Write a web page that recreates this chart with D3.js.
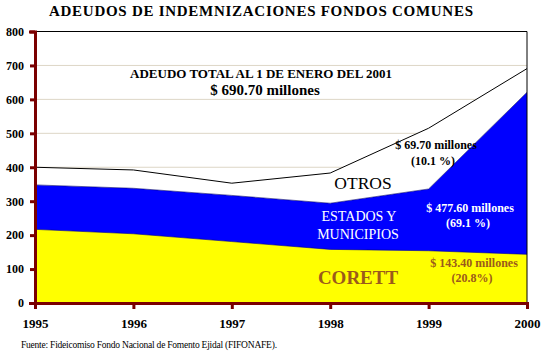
<!DOCTYPE html>
<html>
<head>
<meta charset="utf-8">
<script src="https://cdn.jsdelivr.net/npm/d3@7"></script>
<style>
  body { margin: 0; background: #fff; }
</style>
</head>
<body>
<div id="chart"></div>
<script>
// values (millones de pesos)
const years = [1995, 1996, 1997, 1998, 1999, 2000];
const corett = [217, 204, 181, 158, 154, 143.4];
const estados = [131, 134, 136, 136, 182, 477.6];
const otros = [52, 54, 36, 89, 179, 69.7];
const yTicks = [0, 100, 200, 300, 400, 500, 600, 700, 800];

const serif = "'Liberation Serif'";
const width = 544, height = 354;
const margin = { top: 31.5, right: 17, bottom: 51, left: 35 };

const svg = d3.select('#chart').append('svg')
    .attr('width', width)
    .attr('height', height)
    .style('font-family', serif);

const x = d3.scaleLinear().domain([1995, 2000]).range([margin.left, width - margin.right]);
const y = d3.scaleLinear().domain([0, 800]).range([height - margin.bottom, margin.top]);

const rows = years.map((yr, i) => ({ year: yr, corett: corett[i], estados: estados[i], otros: otros[i] }));
const stacked = d3.stack().keys(['corett', 'estados', 'otros'])(rows);
const fills = { corett: '#ffff00', estados: '#0000ff', otros: '#ffffff' };

// gridlines
svg.append('g')
    .selectAll('line')
    .data(yTicks.filter(d => d > 0 && d < 800))
    .enter().append('line')
    .attr('x1', margin.left).attr('x2', width - margin.right)
    .attr('y1', d => y(d)).attr('y2', d => y(d))
    .attr('stroke', '#ddd6c6')
    .attr('stroke-width', 1);

const area = d3.area()
    .x(d => x(d.data.year))
    .y0(d => y(d[0]))
    .y1(d => y(d[1]));

svg.append('g')
    .selectAll('path')
    .data(stacked)
    .enter().append('path')
    .attr('d', area)
    .attr('fill', d => fills[d.key]);

// edges between layers
const edge = d3.line().x(d => x(d.data.year)).y(d => y(d[1]));
svg.append('g')
    .selectAll('path')
    .data(stacked)
    .enter().append('path')
    .attr('d', d => edge(d))
    .attr('fill', 'none')
    .attr('stroke', d => d.key === 'otros' ? '#000' : '#00006a')
    .attr('stroke-width', d => d.key === 'otros' ? 1 : 0.6);

// frame top and right
svg.append('path')
    .attr('d', `M${margin.left},${y(800)}H${x(2000)}V${y(0)}`)
    .attr('fill', 'none')
    .attr('stroke', '#000')
    .attr('stroke-width', 1);

const axisColor = '#7a0000';

const yAxis = svg.append('g')
    .attr('transform', `translate(${margin.left},0)`)
    .call(d3.axisLeft(y).tickValues(yTicks).tickSize(6).tickPadding(5));
yAxis.select('.domain').attr('stroke', axisColor).attr('stroke-width', 3);
yAxis.selectAll('.tick line').attr('stroke', axisColor).attr('stroke-width', 3).attr('x2', -5);
yAxis.selectAll('.tick text')
    .style('font-family', serif)
    .attr('fill', '#000')
    .attr('font-size', 12)
    .attr('font-weight', 'bold')
    .attr('x', -11);

const xAxis = svg.append('g')
    .attr('transform', `translate(0,${y(0)})`)
    .call(d3.axisBottom(x).tickValues(years).tickFormat(d3.format('d')).tickSize(6).tickPadding(10));
xAxis.select('.domain').attr('stroke', axisColor).attr('stroke-width', 3);
xAxis.selectAll('.tick line').attr('stroke', axisColor).attr('stroke-width', 3);
xAxis.selectAll('.tick text')
    .style('font-family', serif)
    .attr('fill', '#000')
    .attr('font-size', 13)
    .attr('font-weight', 'bold');

// title
svg.append('text')
    .style('font-family', serif)
    .attr('x', 261).attr('y', 16)
    .attr('text-anchor', 'middle')
    .attr('font-size', 15)
    .attr('font-weight', 'bold')
    .attr('textLength', 424)
    .text('ADEUDOS DE INDEMNIZACIONES FONDOS COMUNES');

const labels = [
    { t: 'ADEUDO TOTAL AL 1 DE ENERO DEL 2001', x: 261, y: 78, size: 13, weight: 'bold', fill: '#000' },
    { t: '$ 690.70 millones', x: 265, y: 95, size: 15, weight: 'bold', fill: '#000' },
    { t: '$ 69.70 millones', x: 436, y: 149, size: 12, weight: 'bold', fill: '#000' },
    { t: '(10.1 %)', x: 433, y: 165, size: 12, weight: 'bold', fill: '#000' },
    { t: 'OTROS', x: 363, y: 189, size: 17.5, weight: 'normal', fill: '#000' },
    { t: 'ESTADOS Y', x: 359, y: 221, size: 14, weight: 'normal', fill: '#fff' },
    { t: 'MUNICIPIOS', x: 358, y: 239, size: 14, weight: 'normal', fill: '#fff' },
    { t: '$ 477.60 millones', x: 470, y: 212, size: 12, weight: 'bold', fill: '#fff' },
    { t: '(69.1 %)', x: 468, y: 227, size: 12, weight: 'bold', fill: '#fff' },
    { t: 'CORETT', x: 358, y: 284, size: 19, weight: 'bold', fill: '#9b5a1b' },
    { t: '$ 143.40 millones', x: 474, y: 267, size: 12, weight: 'bold', fill: '#9b5a1b' },
    { t: '(20.8%)', x: 472, y: 282, size: 12, weight: 'bold', fill: '#9b5a1b' }
];

svg.append('g')
    .selectAll('text')
    .data(labels)
    .enter().append('text')
    .style('font-family', serif)
    .attr('x', d => d.x).attr('y', d => d.y)
    .attr('text-anchor', 'middle')
    .attr('font-size', d => d.size)
    .attr('font-weight', d => d.weight)
    .attr('fill', d => d.fill)
    .text(d => d.t);

svg.append('text')
    .style('font-family', serif)
    .attr('x', 21).attr('y', 348)
    .attr('font-size', 9.5)
    .attr('textLength', 256)
    .text('Fuente: Fideicomiso Fondo Nacional de Fomento Ejidal (FIFONAFE).');
</script>
</body>
</html>
